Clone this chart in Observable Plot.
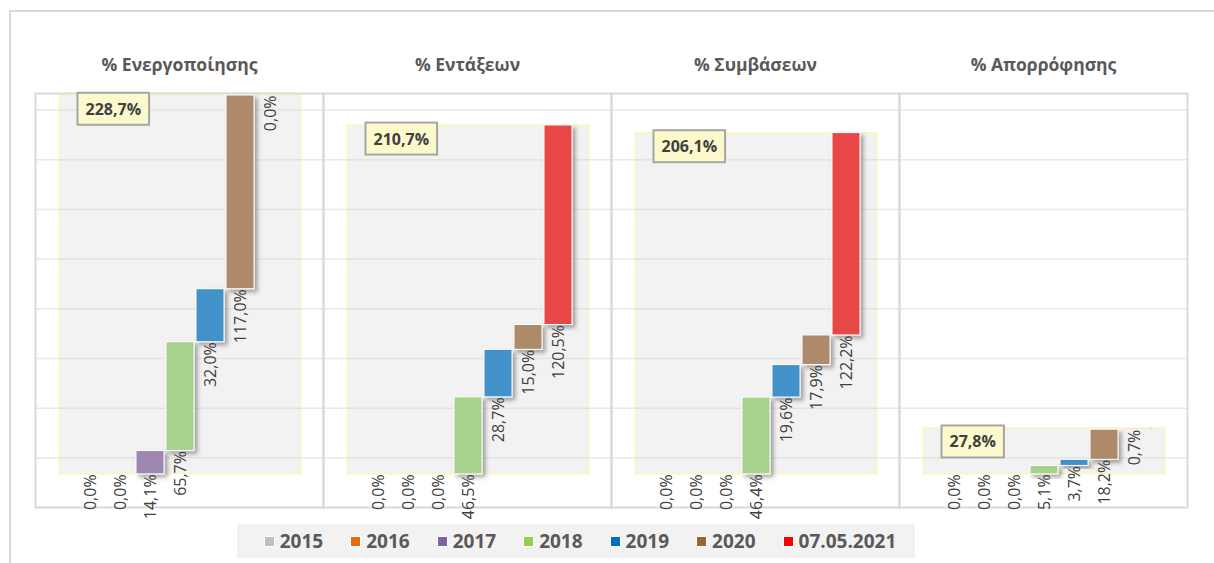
<!DOCTYPE html>
<html>
<head>
<meta charset="utf-8">
<script src="https://cdn.jsdelivr.net/npm/d3@7"></script>
<script src="https://cdn.jsdelivr.net/npm/@observablehq/plot@0.6"></script>
<style>
  body { margin: 0; background: #fff; font-family: "Open Sans", sans-serif; }
  #wrap { position: relative; width: 1214px; height: 563px; overflow: hidden; }
  #border { position: absolute; left: 9px; top: 10px; width: 1300px; height: 700px;
            border-left: 2px solid #d9d9d9; border-top: 2px solid #d9d9d9; }
  #chart { position: absolute; left: 0; top: 0; }
  #legend { position: absolute; left: 237px; top: 524px; width: 678px; height: 34px;
            background: #f2f2f2; display: flex; align-items: center; justify-content: center;
            gap: 27px; padding-left: 8px; box-sizing: border-box; }
  .item { display: flex; align-items: center; gap: 5px; font-weight: bold; font-size: 19px;
          color: #595959; font-family: "Open Sans", sans-serif; }
  .sw { width: 9px; height: 9px; border: 1.5px solid #fff; }
</style>
</head>
<body>
<div id="wrap">
  <div id="border"></div>
  <div id="chart"></div>
  <div id="legend"></div>
</div>
<script>
const categories = ["2015", "2016", "2017", "2018", "2019", "2020", "07.05.2021"];
const panels = ["% Ενεργοποίησης", "% Εντάξεων", "% Συμβάσεων", "% Απορρόφησης"];
const activation   = [0.0, 0.0, 14.1, 65.7, 32.0, 117.0, 0.0];
const integrations = [0.0, 0.0, 0.0, 46.5, 28.7, 15.0, 120.5];
const contracts    = [0.0, 0.0, 0.0, 46.4, 19.6, 17.9, 122.2];
const absorption   = [0.0, 0.0, 0.0, 5.1, 3.7, 18.2, 0.7];
const totals = [228.7, 210.7, 206.1, 27.8];
const gridTicks = [10, 40, 70, 100, 130, 160, 190, 220];
const barColors = ["#bfbfbf", "#e46c0a", "#9e88b3", "#a9d18e", "#4391c9", "#ad8a69", "#e84646"];
const legendColors = ["#bfbfbf", "#e46c0a", "#8064a2", "#92d050", "#0070c0", "#996633", "#ff0000"];

const series = [activation, integrations, contracts, absorption];
const rows = [];
series.forEach((vals, p) => {
  let acc = 0;
  vals.forEach((v, i) => {
    rows.push({panel: panels[p], cat: categories[i], i, start: acc, end: acc + v, value: v});
    acc += v;
  });
});
const totalRows = panels.map((p, k) => ({panel: p, total: totals[k], n: categories.length}));
const fmt = v => d3.format(".1f")(v).replace(".", ",") + "%";

const chart = Plot.plot({
  width: 1214, height: 524,
  marginLeft: 35, marginRight: 27, marginTop: 93, marginBottom: 17,
  style: {overflow: "visible", fontFamily: "Open Sans, sans-serif", background: "transparent"},
  fx: {domain: panels, padding: 0, axis: null},
  x: {domain: [-40 / 30, 248 / 30], axis: null},
  y: {domain: [-20, 230], axis: null},
  color: {domain: categories, range: barColors},
  marks: [
    Plot.rect(totalRows, {fx: "panel", x1: 0, x2: "n", y1: 0, y2: "total",
      fill: "#f2f2f2", stroke: "#fbfb9c", strokeWidth: 1, insetLeft: -16, insetRight: -16}),
    Plot.ruleY(gridTicks, {stroke: "#d9d9d9", strokeOpacity: 0.6, strokeWidth: 1.5}),
    Plot.frame({stroke: "#d9d9d9", strokeWidth: 2}),
    Plot.rect(rows.filter(d => d.value > 0), {fx: "panel", x1: "i", x2: d => d.i + 1,
      y1: "start", y2: "end", fill: "cat", stroke: "white", strokeWidth: 1,
      insetLeft: 1, insetRight: 1, ariaDescription: "bars"}),
    Plot.text(rows, {fx: "panel", x: d => d.i + 0.5, y: "start", text: d => fmt(d.value),
      rotate: -90, textAnchor: "end", fontSize: 16, fill: "#404040"}),
    Plot.text(totalRows, {fx: "panel", x: 0, y: "total", text: d => fmt(d.total),
      textAnchor: "start", lineAnchor: "middle", dx: 10, dy: 14,
      fontWeight: "bold", fontSize: 16, fill: "#404040", ariaDescription: "totals"}),
    Plot.text(panels, {fx: d => d, text: d => d, frameAnchor: "top", lineAnchor: "middle",
      dy: -28, fontWeight: "bold", fontSize: 17.5, fill: "#595959"})
  ]
});
document.getElementById("chart").appendChild(chart);

const svg = d3.select(chart);
const filt = svg.append("defs").append("filter").attr("id", "shadow")
  .attr("x", "-30%").attr("y", "-30%").attr("width", "180%").attr("height", "180%");
filt.append("feDropShadow").attr("dx", 3).attr("dy", 3).attr("stdDeviation", 2.2)
  .attr("flood-color", "#000").attr("flood-opacity", 0.35);

function pick(label, tag) {
  const out = [];
  chart.querySelectorAll(`[aria-description="${label}"]`).forEach(el => {
    if (el.tagName.toLowerCase() === tag) out.push(el);
    else el.querySelectorAll(tag).forEach(c => out.push(c));
  });
  return out;
}
pick("bars", "rect").forEach(el => el.setAttribute("filter", "url(#shadow)"));

pick("totals", "text").forEach(t => {
  const b = t.getBBox();
  const padX = 8, padY = 6;
  d3.select(t.parentNode).insert("rect", () => t)
    .attr("transform", t.getAttribute("transform"))
    .attr("x", b.x - padX).attr("y", b.y - padY + 1)
    .attr("width", b.width + 2 * padX).attr("height", b.height + 2 * padY - 2)
    .attr("fill", "#fcf9cc").attr("stroke", "#a6a6a6").attr("stroke-width", 2);
});

const legend = d3.select("#legend");
categories.forEach((c, i) => {
  const it = legend.append("div").attr("class", "item");
  it.append("span").attr("class", "sw").style("background", legendColors[i]);
  it.append("span").text(c);
});
</script>
</body>
</html>
